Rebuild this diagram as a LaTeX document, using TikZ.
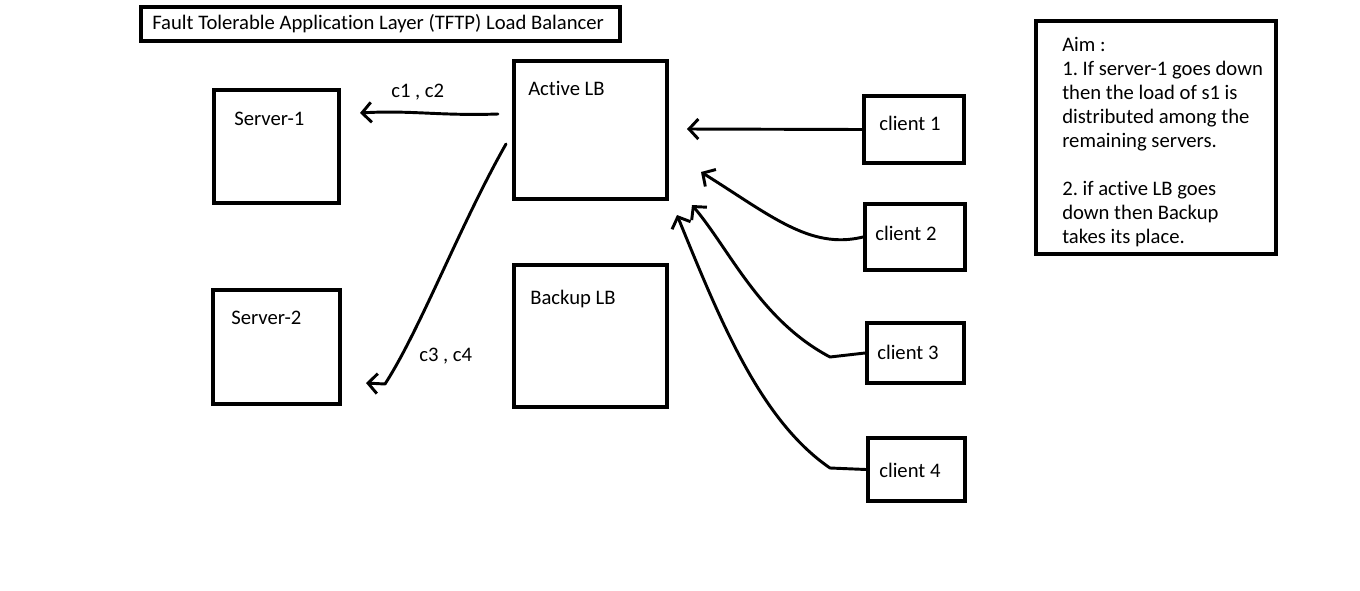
\documentclass[tikz,border=0pt]{standalone}
\usepackage{fontspec}
\setmainfont{Carlito}[Ligatures=NoCommon]
\usepackage{tikz}
\usetikzlibrary{arrows.meta, positioning, calc}
\frenchspacing

\begin{document}
\begin{tikzpicture}[x=0.75pt, y=-0.75pt,
    box/.style={draw=black, line width=3pt, inner sep=0pt},
    tag/.style={font=\fontsize{15.5}{18}\selectfont, inner sep=0pt, anchor=base west},
    link/.style={line width=2.2pt, line cap=round, line join=round,
        -{Straight Barb[length=7pt, width=15pt, line width=2.2pt]}}]
    \useasboundingbox (0,0) rectangle (1360,590);
    % boxes
    \node[box, minimum width=359pt, minimum height=25.5pt] (title) at (380.5,24) {};
    \node[box, minimum width=93.75pt, minimum height=84.75pt] (srv1) at (276.5,146.5) {};
    \node[box, minimum width=95.25pt, minimum height=85.5pt] (srv2) at (276.5,347) {};
    \node[box, minimum width=114.75pt, minimum height=103.5pt] (active) at (590.5,130) {};
    \node[box, minimum width=114.75pt, minimum height=106.5pt] (backup) at (590.5,336) {};
    \node[box, minimum width=75pt, minimum height=50.25pt] (cl1) at (914,129.5) {};
    \node[box, minimum width=75pt, minimum height=49.5pt] (cl2) at (915,237) {};
    \node[box, minimum width=72.75pt, minimum height=45pt] (cl3) at (915.5,353) {};
    \node[box, minimum width=72.75pt, minimum height=47.25pt] (cl4) at (916.5,469.5) {};
    \node[box, minimum width=180pt, minimum height=174.75pt] (aim) at (1156,137.5) {};
    % texts
    \node[tag] (titletxt) at (152,29) {Fault Tolerable Application Layer (TFTP) Load Balancer};
    \node[tag] (srv1txt) at (234,125) {Server-1};
    \node[tag] (srv2txt) at (231,324) {Server-2};
    \node[tag] (activetxt) at (528,95) {Active LB};
    \node[tag] (backuptxt) at (530,304) {Backup LB};
    \node[tag] (cl1txt) at (879,130) {client 1};
    \node[tag] (cl2txt) at (875,240) {client 2};
    \node[tag] (cl3txt) at (877,359) {client 3};
    \node[tag] (cl4txt) at (879,477) {client 4};
    \node[tag] (c12) at (391,97) {c1 , c2};
    \node[tag] (c34) at (419,361) {c3 , c4};
    \node[tag, anchor=north west, align=left] (aimtxt) at (1062,37) {Aim :\\
        1. If server-1 goes down\\
        then the load of s1 is\\
        distributed among the\\
        remaining servers.\\[18pt]
        2. if active LB goes\\
        down then Backup\\
        takes its place.};
    % connectors
    \coordinate (lbout1) at (498,114);
    \coordinate (srv1in) at (360,113);
    \coordinate (lbout2) at (506,144);
    \coordinate (srv2in) at (385,384);
    \coordinate (srv2tip) at (366,383);
    \coordinate (lbin1) at (687,129);
    \coordinate (lbin2) at (701,172);
    \coordinate (lbin3) at (692,205);
    \coordinate (lbin4) at (677,215);
    \draw[link] (lbout1) .. controls (440,116) and (410,110) .. (srv1in);
    \draw[link] (lbout2) .. controls (460,225) and (420,330) .. (srv2in) -- (srv2tip);
    \draw[link] (cl1.west) -- (lbin1);
    \draw[link] (cl2.west) .. controls (810,250) and (770,215) .. (lbin2);
    \draw[link] (cl3.west) -- (830,357) .. controls (760,320) and (730,250) .. (lbin3);
    \draw[link] (cl4.west) -- (830,468) .. controls (760,420) and (720,320) .. (lbin4);
\end{tikzpicture}
\end{document}
